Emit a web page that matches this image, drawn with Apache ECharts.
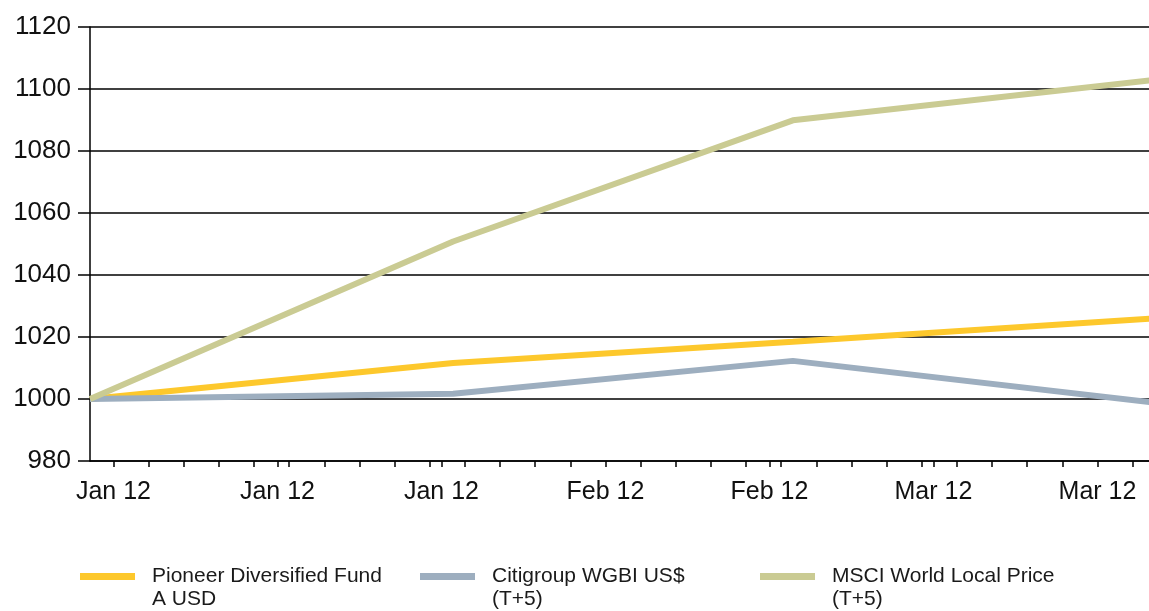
<!DOCTYPE html>
<html>
<head>
<meta charset="utf-8">
<script src="https://cdn.jsdelivr.net/npm/echarts@6/dist/echarts.min.js"></script>
<style>
  html, body { margin: 0; padding: 0; background: #fff; }
  #chart { width: 1149px; height: 611px; }
</style>
</head>
<body>
<div id="chart"></div>
<script>
// data points (month ends), start = 31 Dec 2011
var dates = ['2011-12-31', '2012-01-31', '2012-02-29', '2012-03-31'];
var pioneer = [1000, 1011.6, 1018.5, 1026];
var citigroup = [1000, 1001.7, 1012.3, 998.8];
var msci = [1000, 1050.8, 1089.9, 1103];

var seriesNames = ['Pioneer Diversified Fund A USD', 'Citigroup WGBI US$ (T+5)', 'MSCI World Local Price (T+5)'];
// leading blank line keeps the swatch level with the first text line
var legendText = ['\nPioneer Diversified Fund\nA USD', '\nCitigroup WGBI US$\n(T+5)', '\nMSCI World Local Price\n(T+5)'];
var colors = ['#fdc82c', '#9daebf', '#cacb93'];

// x axis in days since start
var tickLabels = ['Jan 12', 'Jan 12', 'Jan 12', 'Feb 12', 'Feb 12', 'Mar 12', 'Mar 12'];
var labelDays = [2, 16, 30, 44, 58, 72, 86];
var tickDays = [2, 5, 8, 11, 14, 17, 20, 23, 26, 29, 32, 35, 38, 41, 44, 47, 50, 53, 56, 59,
                62, 65, 68, 71, 74, 77, 80, 83, 86, 89, 16, 30, 58, 72];

function dayOf(s) {
    return (Date.parse(s + 'T00:00:00Z') - Date.parse(dates[0] + 'T00:00:00Z')) / 86400000;
}
function pairs(vals) {
    return vals.map(function (v, i) { return [dayOf(dates[i]), v]; });
}

var chart = echarts.init(document.getElementById('chart'));
var font = 'Liberation Sans, Arial, sans-serif';

function legendAt(i, left) {
    return {
        data: [seriesNames[i]],
        left: left,
        top: 542,
        padding: 0,
        icon: 'rect',
        itemWidth: 55,
        itemHeight: 7,
        selectedMode: false,
        formatter: function () { return legendText[i]; },
        textStyle: {
            fontFamily: font,
            fontSize: 21,
            lineHeight: 23,
            color: '#1a1a1a',
            padding: [0, 0, 0, 12]
        }
    };
}

var option = {
    backgroundColor: '#fff',
    animation: false,
    color: colors,
    grid: { left: 90, right: 0, top: 27, bottom: 150 },
    legend: [legendAt(0, 80), legendAt(1, 420), legendAt(2, 760)],
    xAxis: {
        type: 'value',
        min: 0,
        max: 90.4,
        axisLine: { lineStyle: { color: '#000', width: 1.5 } },
        axisTick: { show: true, length: 6, customValues: tickDays, lineStyle: { color: '#000', width: 1.5 } },
        splitLine: { show: false },
        axisLabel: {
            customValues: labelDays,
            margin: 19,
            fontFamily: font,
            fontSize: 25,
            color: '#111',
            formatter: function (v) {
                var k = labelDays.indexOf(Math.round(v));
                return k >= 0 ? tickLabels[k] : '';
            }
        }
    },
    yAxis: {
        type: 'value',
        min: 980,
        max: 1120,
        interval: 20,
        axisLine: { show: true, lineStyle: { color: '#000', width: 1.5 } },
        axisTick: { show: true, length: 12, lineStyle: { color: '#000', width: 1.5 } },
        splitLine: { lineStyle: { color: '#000', width: 1.5 } },
        axisLabel: {
            margin: 19,
            fontFamily: font,
            fontSize: 26,
            color: '#111',
            formatter: function (v) { return String(v); }
        }
    },
    series: [
        { name: seriesNames[0], type: 'line', data: pairs(pioneer), showSymbol: false, lineStyle: { width: 6 } },
        { name: seriesNames[1], type: 'line', data: pairs(citigroup), showSymbol: false, lineStyle: { width: 6 } },
        { name: seriesNames[2], type: 'line', data: pairs(msci), showSymbol: false, lineStyle: { width: 6 } }
    ]
};

chart.setOption(option);
</script>
</body>
</html>
